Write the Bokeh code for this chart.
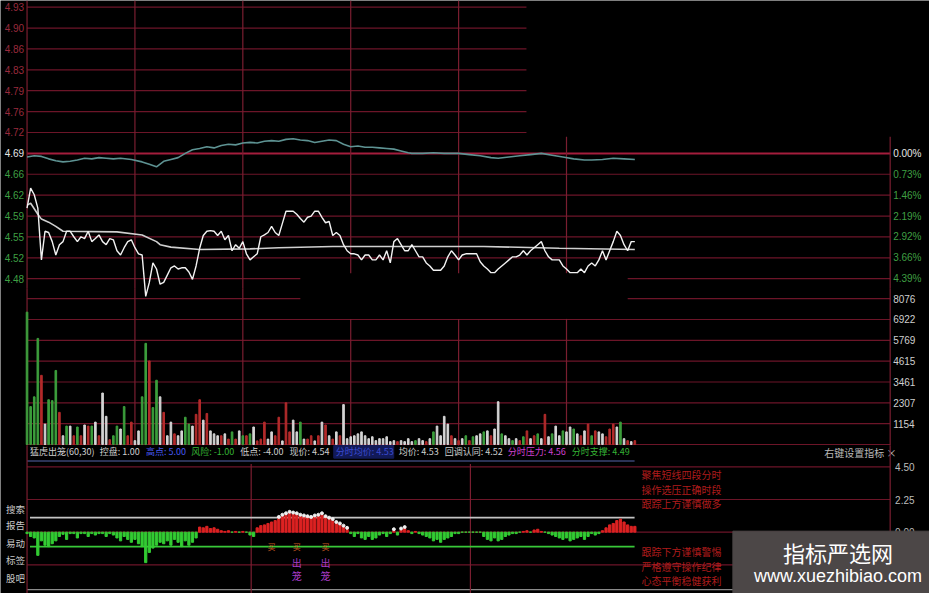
from bokeh.plotting import figure
from bokeh.models import Range1d
from bokeh.core.properties import value
from bokeh.embed import file_html
from bokeh.resources import INLINE

# ---------------- data ----------------
prev_close = 4.69
step_pct = 0.7317
minutes = list(range(170))

price = [4.600, 4.633, 4.622, 4.600, 4.515, 4.562, 4.560, 4.545, 4.523, 4.540,
         4.545, 4.562, 4.562, 4.553, 4.545, 4.553, 4.550, 4.562, 4.545, 4.550,
         4.556, 4.545, 4.540, 4.550, 4.548, 4.530, 4.523, 4.535, 4.545, 4.548,
         4.535, 4.525, 4.523, 4.455, 4.478, 4.510, 4.500, 4.475, 4.478, 4.490,
         4.502, 4.505, 4.500, 4.502, 4.502, 4.495, 4.483, 4.505, 4.534, 4.555,
         4.562, 4.563, 4.562, 4.555, 4.562, 4.548, 4.555, 4.530, 4.540, 4.534,
         4.545, 4.525, 4.515, 4.520, 4.525, 4.553, 4.556, 4.560, 4.570, 4.560,
         4.555, 4.575, 4.595, 4.595, 4.595, 4.590, 4.583, 4.577, 4.585, 4.587,
         4.595, 4.595, 4.585, 4.576, 4.578, 4.555, 4.560, 4.555, 4.540, 4.530,
         4.525, 4.525, 4.523, 4.515, 4.523, 4.523, 4.515, 4.515, 4.523, 4.515,
         4.530, 4.510, 4.545, 4.550, 4.540, 4.530, 4.530, 4.540, 4.530, 4.520,
         4.520, 4.510, 4.505, 4.498, 4.498, 4.498, 4.505, 4.520, 4.530, 4.523,
         4.515, 4.523, 4.525, 4.525, 4.525, 4.525, 4.512, 4.505, 4.500, 4.494,
         4.494, 4.500, 4.505, 4.510, 4.515, 4.520, 4.520, 4.523, 4.530, 4.523,
         4.530, 4.535, 4.540, 4.545, 4.530, 4.520, 4.515, 4.515, 4.515, 4.505,
         4.500, 4.494, 4.494, 4.494, 4.500, 4.494, 4.505, 4.510, 4.505, 4.515,
         4.530, 4.515, 4.530, 4.545, 4.562, 4.555, 4.540, 4.530, 4.545, 4.545]

avg_minutes = [0, 1, 3, 4, 6, 8, 10, 25, 32, 36, 37, 40, 48, 62, 70, 85, 127, 148, 169]
avg_price = [4.605, 4.608, 4.590, 4.582, 4.577, 4.570, 4.562, 4.561, 4.556, 4.545,
             4.540, 4.536, 4.532, 4.533, 4.535, 4.537, 4.537, 4.534, 4.532]

index_minutes = [0, 2, 4, 6, 8, 10, 12, 14, 16, 18, 20, 22, 24, 26, 29, 32, 34, 36, 38, 40,
                 42, 44, 46, 48, 50, 52, 54, 56, 58, 60, 62, 64, 66, 68, 70, 72, 74, 76, 78, 80,
                 82, 84, 86, 88, 90, 92, 94, 96, 98, 100, 102, 104, 106, 107, 110, 113, 116, 120, 123, 126,
                 129, 131, 134, 137, 140, 143, 146, 149, 152, 155, 157, 160, 163, 166, 169]
index_line = [4.684, 4.686, 4.685, 4.681, 4.678, 4.676, 4.677, 4.679, 4.682, 4.681,
              4.683, 4.682, 4.681, 4.682, 4.680, 4.676, 4.672, 4.668, 4.677, 4.680,
              4.683, 4.690, 4.696, 4.698, 4.701, 4.699, 4.703, 4.705, 4.704, 4.707,
              4.708, 4.707, 4.710, 4.711, 4.710, 4.713, 4.714, 4.712, 4.711, 4.708,
              4.710, 4.712, 4.711, 4.705, 4.701, 4.702, 4.700, 4.700, 4.699, 4.698,
              4.697, 4.694, 4.691, 4.690, 4.690, 4.691, 4.690, 4.690, 4.688, 4.686,
              4.683, 4.682, 4.684, 4.686, 4.688, 4.690, 4.687, 4.684, 4.681, 4.679,
              4.679, 4.680, 4.682, 4.681, 4.680]

volume = [7330, 2100, 2640, 5875, 3830, 1130, 2480, 2430, 4100, 1780,
          485, 1020, 1020, 485, 970, 485, 1080, 1020, 1020, 1240,
          485, 2850, 1560, 270, 485, 1020, 860, 2100, 485, 1240,
          215, 755, 2640, 5600, 4630, 2045, 3560, 2640, 1780, 485,
          1240, 590, 485, 755, 1510, 1130, 1020, 1670, 2480, 1350,
          1720, 755, 590, 485, 485, 590, 300, 700, 300, 755,
          485, 485, 590, 970, 200, 300, 1240, 300, 700, 485,
          1510, 200, 2310, 700, 1350, 700, 1240, 300, 300, 485,
          200, 485, 1240, 1080, 485, 300, 700, 485,
          2210, 323, 430, 485, 590, 700, 485, 323, 430, 215,
          323, 323, 430, 160, 215, 160, 215, 160, 323, 160,
          215, 323, 215, 160, 323, 700, 1020, 485, 1560, 1130,
          485, 323, 215, 323, 485, 215, 430, 485, 590, 700,
          755, 485, 860, 2370, 590, 485, 323, 215, 323, 215,
          430, 755, 323, 485, 590, 323, 1670, 430, 590, 1020,
          485, 755, 700, 970, 860, 590, 485, 755, 1130, 485,
          755, 700, 590, 430, 860, 1130, 970, 1240, 323, 215,
          160, 215]
# tick direction of each minute: g = down tick, r = up tick, w = unchanged
volume_dir = list("ggggrwgggr" "wgwrgrwrgw" "rwwrggwgrr" "wwggrggwrw" "wrwwggwrrw"
                  "rwwwrwrgrw" "grgwrrrwwr" "rwrrwwgwrr" "wrwrwrwr"
                  "wwwwwwwwww" "wwwwwrwwww" "gwwrwgwwww" "rwrwgrgwwg" "wrwwgwwgwr"
                  "grwrgwrwgw" "wgwwgwrwrg" "rwwrrrwgwr" "wr")

pct_labels = ["0.00%", "0.73%", "1.46%", "2.19%", "2.92%", "3.66%", "4.39%"]
price_labels = ["4.93", "4.90", "4.86", "4.83", "4.79", "4.76", "4.72", "4.69",
                "4.66", "4.62", "4.59", "4.55", "4.52", "4.48"]
vol_labels = [8076, 6922, 5769, 4615, 3461, 2307, 1154]

indicator = [-0.1, -0.3, -0.4, -1.6, -0.6, -0.9, -1.0, -0.8, -0.6, -0.3,
             -0.15, -0.5, -0.1, -0.1, -0.4, -0.1, -0.1, -0.3, -0.1, -0.2,
             -0.1, -0.1, -0.3, -0.1, -0.2, -0.4, -0.6, -0.3, -0.5, -0.7,
             -0.5, -0.8, -1.0, -2.1, -1.4, -1.1, -0.9, -0.7, -0.8, -0.6,
             -0.9, -0.5, -0.7, -1.0, -0.6, -0.9, -0.7, -0.4, 0.35, 0.3,
             0.4, 0.25, 0.3, 0.2, 0.1, 0.05, 0.1, 0.0, 0.05, 0.0,
             0.05, 0.0, -0.2, -0.3, 0.3, 0.45, 0.5, 0.6, 0.7, 0.8,
             0.95, 1.1, 1.2, 1.3, 1.25, 1.2, 1.1, 1.05, 1.0, 0.95,
             1.05, 1.1, 1.2, 1.0, 0.9, 0.8, 0.6, 0.5, 0.35, 0.2,
             -0.1, -0.3, -0.1, -0.4, -0.5, -0.3, -0.5, -0.4, -0.2, -0.1,
             -0.3, -0.1, 0.1, -0.2, 0.15, 0.25, 0.1, -0.1, 0.05, -0.1,
             -0.2, -0.3, -0.4, -0.6, -0.5, -0.7, -0.5, -0.4, -0.3, -0.1,
             -0.1, 0.0, 0.0, 0.0, 0.0, 0.0, 0.0, -0.3, -0.5, -0.6,
             -0.4, -0.6, -0.5, -0.3, -0.2, -0.1, -0.1, 0.0, 0.05, 0.1,
             0.0, 0.15, 0.2, 0.05, 0.0, -0.1, -0.2, -0.3, -0.4, -0.5,
             -0.4, -0.6, -0.5, -0.4, -0.3, -0.5, -0.3, -0.1, -0.2, -0.1,
             0.1, 0.3, 0.5, 0.6, 0.8, 0.9, 0.7, 0.5, 0.4, 0.4]
ind_ticks = [4.50, 2.25, 0.00, -2.25]
ind_tick_labels = ["4.50", "2.25", "0.00"]
ctrl_level = 1.00
risk_level = -1.00
dot_minutes = [70, 71, 72, 73, 74, 75, 76, 77, 78, 79, 80, 81, 82, 83, 84, 85, 86, 87, 88, 89, 102, 104, 105]
dot_values = [1.05, 1.2, 1.3, 1.4, 1.35, 1.3, 1.2, 1.15, 1.1, 1.05, 1.15, 1.2, 1.3, 1.1,
              1.0, 0.9, 0.7, 0.6, 0.45, 0.3, 0.2, 0.25, 0.35]
buy_minutes = [68, 75, 83]
out_minutes = [75, 83]

header_items = [("猛虎出笼(60,30)", "#cfcfcf"), ("控盘: 1.00", "#cfcfcf"), ("高点: 5.00", "#4658f0"),
                ("风险: -1.00", "#35b335"), ("低点: -4.00", "#cfcfcf"), ("现价: 4.54", "#cfcfcf"),
                ("分时均价: 4.53", "#3a4ad0"), ("均价: 4.53", "#cfcfcf"), ("回调认同: 4.52", "#cfcfcf"),
                ("分时压力: 4.56", "#d040d0"), ("分时支撑: 4.49", "#35b335")]
notes_up = ["聚焦短线四段分时", "操作选压正确时段", "跟踪上方谨慎做多"]
notes_dn = ["跟踪下方谨慎警惕", "严格遵守操作纪律", "心态平衡稳健获利"]
side_labels = ["搜索", "报告", "易动", "标签", "股吧"]

# ---------------- layout helpers (reference pixel -> data) ----------------
X0, X1 = 27, 905


def mx(px):
    return (px - X0) * 240.0 / (X1 - X0)


def py(yp):
    return prev_close - (yp - 157) / 625.0


def vy(yp):
    return (456 - yp) * 1153.7 / 21.4


def iy(yp):
    return (546 - yp) / 14.9


GRID = "#6c1528"
VGRID = "#7a1e30"
NUM = value("Liberation Sans")
CJK = value("Noto Sans CJK SC")

p = figure(width=929, height=593, x_range=Range1d(mx(0), mx(945)),
           y_range=Range1d(py(609), py(0)),
           output_backend="svg", toolbar_location=None, min_border=0,
           x_axis_type=None, y_axis_type=None,
           background_fill_color="black", border_fill_color="black",
           outline_line_color=None)
p.extra_y_ranges = {"vol": Range1d(vy(609), vy(0)), "ind": Range1d(iy(609), iy(0))}
for g in p.grid:
    g.visible = False


def hsegs(ys, extents, rng="default", **kw):
    x0, x1, yy = [], [], []
    for y, segs in zip(ys, extents):
        for a, b in segs:
            x0.append(mx(a)); x1.append(mx(b)); yy.append(y)
    p.segment(x0=x0, y0=yy, x1=x1, y1=yy, y_range_name=rng, **kw)


def vsegs(ms, extents, conv, rng="default", **kw):
    p.segment(x0=ms, x1=ms, y0=[conv(b) for a, b in extents],
              y1=[conv(a) for a, b in extents], y_range_name=rng, **kw)


# ---------------- price panel ----------------
ks = list(range(7, -7, -1))
grid_vals = [prev_close * (1 + k * step_pct / 100) for k in ks]
ext = []
for k in ks:
    if k > 0:
        ext.append([(27, 535)])
    elif k > -6:
        ext.append([(27, 905)])
    else:
        ext.append([(27, 305), (638, 905)])
hsegs([v for k, v in zip(ks, grid_vals) if k != 0], [e for k, e in zip(ks, ext) if k != 0],
      line_color=GRID, line_width=1.2)
hsegs([prev_close], [[(27, 905)]], line_color="#a41d3c", line_width=2)
vsegs([0, 30, 60, 90, 120, 150, 240],
      [(0, 296), (0, 296), (0, 296), (0, 280), (0, 280), (140, 280), (140, 296)], py,
      line_color=VGRID, line_width=1.2)

p.line(index_minutes, index_line, line_color="#5e9393", line_width=1.6)
p.line(avg_minutes, avg_price, line_color="#cfcfcf", line_width=1.6)
p.line(minutes, price, line_color="#f2f2f2", line_width=1.4)

lab_colors = ["#9a2a3c" if k > 0 else ("#e6e6e6" if k == 0 else "#3f9f43") for k in ks]
p.text(x=[mx(24)] * len(ks), y=grid_vals, text=price_labels, text_color=lab_colors,
       text_align="right", text_baseline="middle", text_font=NUM, text_font_size="10px")
pct_vals = [v for k, v in zip(ks, grid_vals) if k <= 0]
p.text(x=[mx(908)] * len(pct_labels), y=pct_vals, text=pct_labels,
       text_color=["#e6e6e6"] + ["#3f9f43"] * (len(pct_labels) - 1),
       text_align="left", text_baseline="middle", text_font=NUM, text_font_size="10px")

# ---------------- volume panel ----------------
hsegs(vol_labels + [0],
      [[(27, 305), (638, 905)]] + [[(27, 905)]] * (len(vol_labels) - 1) + [[(27, 905)]],
      rng="vol", line_color=GRID, line_width=1.2)
vsegs([0, 30, 60, 90, 120, 150, 240],
      [(296, 457), (296, 457), (296, 457), (327, 457), (327, 457), (327, 457), (296, 457)], vy,
      rng="vol", line_color=VGRID, line_width=1.2)
cmap = {"g": "#3c9e3c", "r": "#b32b2b", "w": "#d4d4d4"}
p.vbar(x=minutes, top=volume, bottom=0, width=0.45, color=[cmap[c] for c in volume_dir],
       y_range_name="vol")
p.text(x=[mx(908)] * len(vol_labels), y=vol_labels, text=[str(v) for v in vol_labels],
       text_color="#cfcfcf", text_align="left", text_baseline="middle",
       text_font=NUM, text_font_size="10px", y_range_name="vol")

# ---------------- indicator panel ----------------
hx = [30, 101, 148, 194, 244, 294, 341, 405, 452, 516, 581]
p.quad(left=[mx(339)], right=[mx(400)], top=[iy(457)], bottom=[iy(470)], color="#121a58",
       y_range_name="ind")
p.text(x=[mx(a) for a in hx], y=[iy(463)] * len(hx), text=[t for t, c in header_items],
       text_color=[c for t, c in header_items], text_align="left", text_baseline="middle",
       text_font=CJK, text_font_size="9px", y_range_name="ind")
p.text(x=[mx(838)], y=[iy(464)], text=["右键设置指标 ×"], text_color="#b8b8b8",
       text_align="left", text_baseline="middle", text_font=CJK, text_font_size="10px",
       y_range_name="ind")
hsegs([iy(473)], [[(27, 645)]], rng="ind", line_color="#3a4472", line_width=1.5)
hsegs(ind_ticks, [[(27, 905)]] * len(ind_ticks), rng="ind", line_color=GRID, line_width=1.2)
hsegs([iy(605)], [[(27, 905)]], rng="ind", line_color="#8a8a8a", line_width=1.2)
p.segment(x0=[mx(27), mx(255), mx(478), mx(905)], x1=[mx(27), mx(255), mx(478), mx(905)],
          y0=[iy(609)] * 4, y1=[iy(457), iy(476), iy(476), iy(457)],
          line_color=VGRID, line_width=1.2, y_range_name="ind")
hsegs([ctrl_level], [[(30, 645)]], rng="ind", line_color="#c4c4c4", line_width=1.6)
hsegs([risk_level], [[(30, 645)]], rng="ind", line_color="#38c838", line_width=1.6)

p.vbar(x=minutes, top=indicator, bottom=0, width=0.62,
       color=["#dd2222" if v > 0 else "#33cc33" for v in indicator], y_range_name="ind")
p.scatter(dot_minutes, dot_values, size=3, color="#f0f0f0", y_range_name="ind")
p.text(x=buy_minutes, y=[risk_level] * len(buy_minutes), text=["买"] * len(buy_minutes),
       text_color="#c85a20", text_align="center", text_baseline="middle",
       text_font=CJK, text_font_size="8px", y_range_name="ind")
p.text(x=out_minutes * 2, y=[iy(577)] * 2 + [iy(591)] * 2, text=["出", "出", "笼", "笼"],
       text_color="#a83cc8", text_align="center", text_baseline="middle",
       text_font=CJK, text_font_size="10px", y_range_name="ind")

p.text(x=[mx(652)] * 6, y=[iy(487), iy(502), iy(517), iy(566), iy(581), iy(596)],
       text=notes_up + notes_dn, text_color="#b01c1c", text_align="left",
       text_baseline="middle", text_font=CJK, text_font_size="10px", y_range_name="ind")
p.text(x=[mx(910)] * 3, y=ind_ticks[:3], text=ind_tick_labels, text_color="#bdbdbd",
       text_align="left", text_baseline="middle", text_font=NUM, text_font_size="10px",
       y_range_name="ind")
p.text(x=[mx(25)] * 5, y=[iy(522), iy(539), iy(557), iy(575), iy(593)], text=side_labels,
       text_color="#c8c8c8", text_align="right", text_baseline="middle",
       text_font=CJK, text_font_size="9.5px", y_range_name="ind")

# watermark box
p.quad(left=[mx(745)], right=[mx(955)], top=[iy(545)], bottom=[iy(615)],
       color="#4c4747", y_range_name="ind")
p.text(x=[mx(852)], y=[iy(566)], text=["指标严选网"], text_color="#ffffff",
       text_align="center", text_baseline="middle", text_font=CJK, text_font_size="22px",
       y_range_name="ind")
p.text(x=[mx(852)], y=[iy(591)], text=["www.xuezhibiao.com"], text_color="#ffffff",
       text_align="center", text_baseline="middle", text_font=value("Liberation Sans"),
       text_font_size="18px", y_range_name="ind")

open("out.html", "w").write(file_html(p, INLINE))
